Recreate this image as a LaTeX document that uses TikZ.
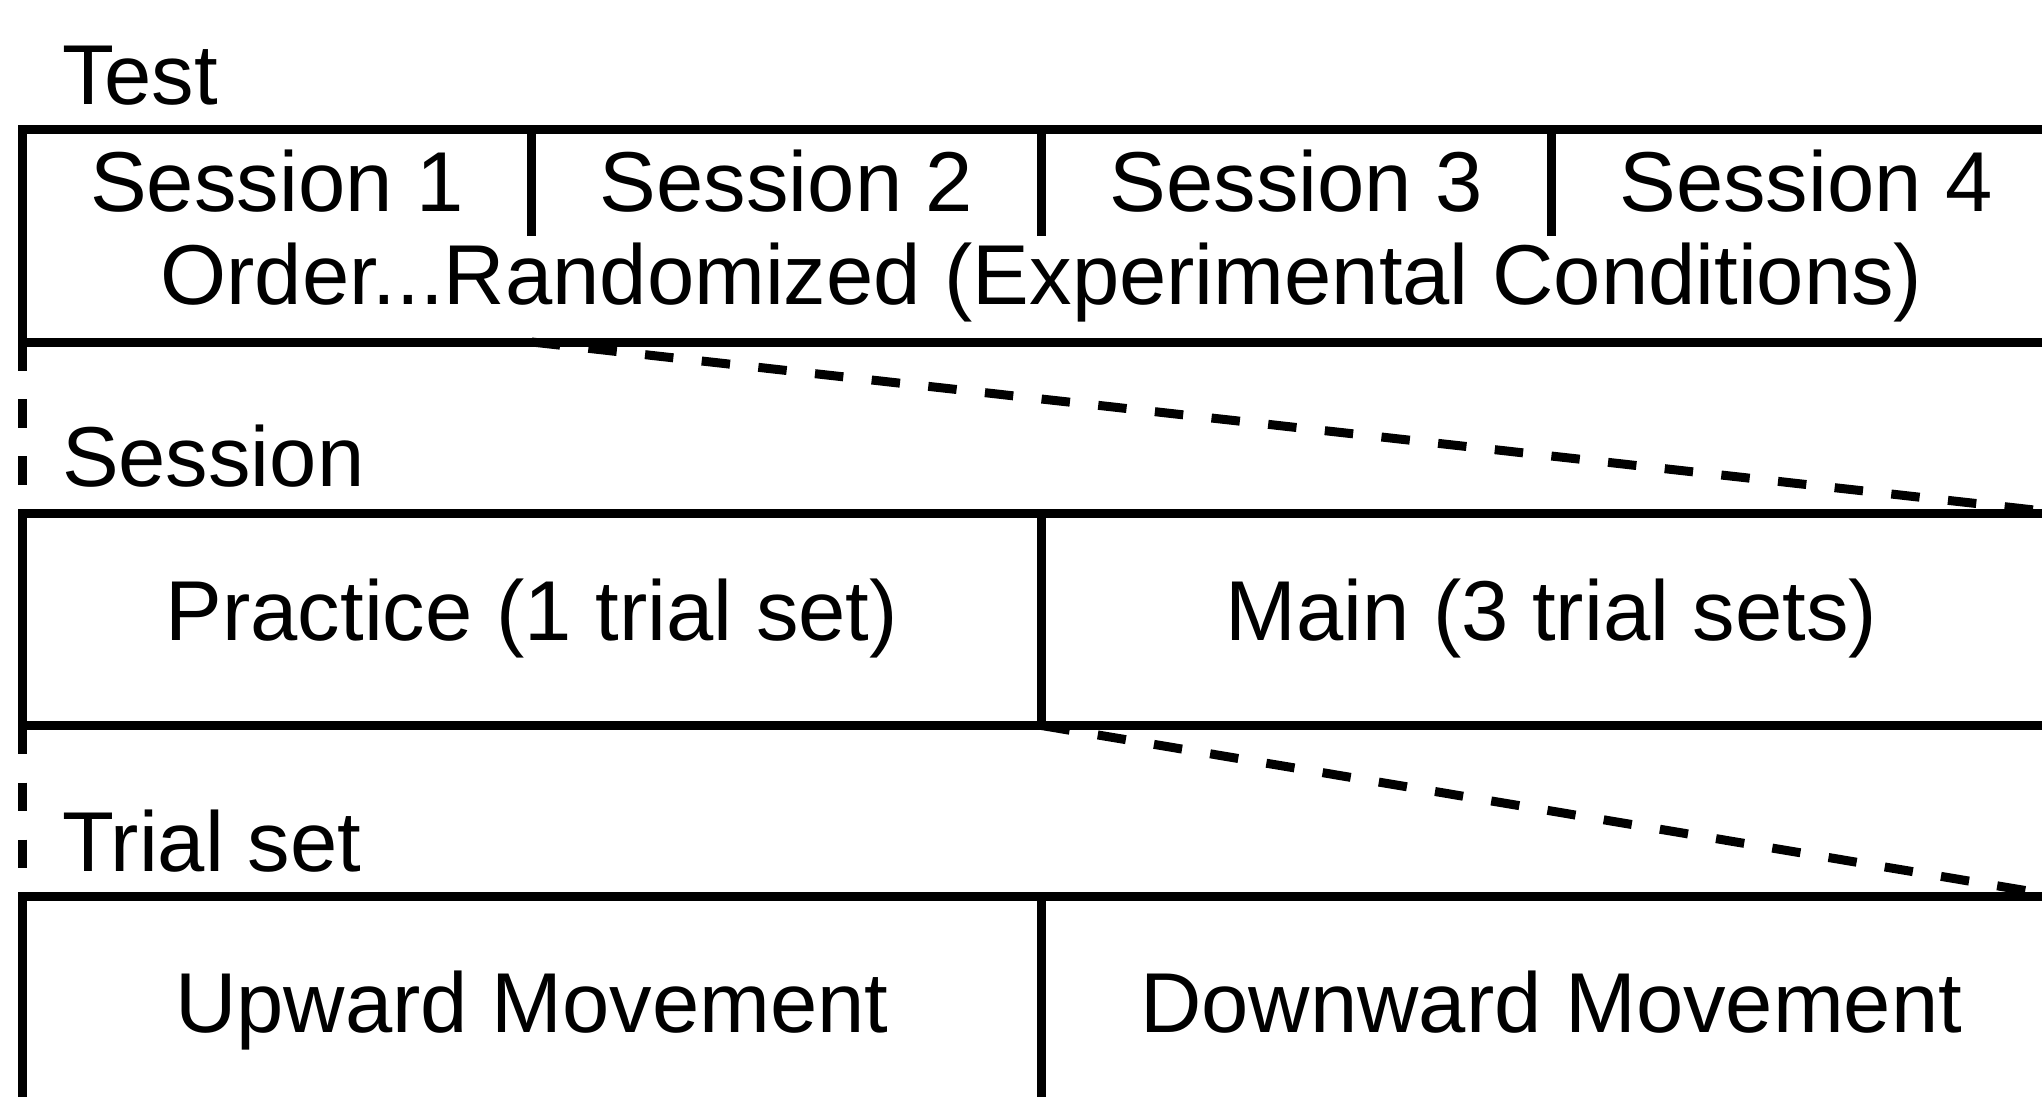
\documentclass[tikz,border=0pt]{standalone}
\usepackage{fontspec}
\setmainfont{Liberation Sans}
\usetikzlibrary{calc}
\begin{document}
\begin{tikzpicture}[x=0.5pt,y=-0.5pt,
  boxframe/.style={draw, line width=4.5pt, rectangle, inner sep=0pt, outer sep=0pt,
    anchor=north west, minimum width=1019.5pt, minimum height=106.25pt},
  divider/.style={line width=4.5pt},
  link/.style={line width=4.5pt, dash pattern=on 14.25pt off 14.25pt},
  lbl/.style={inner sep=0pt, outer sep=0pt, font=\fontsize{42.5pt}{50pt}\selectfont},
  head/.style={lbl, anchor=base west},
  cell/.style={lbl, anchor=base}]
\useasboundingbox (0,0) rectangle (2042,1097);
\clip (0,0) rectangle (2042,1097);

% boxes
\node[boxframe] (test) at (22,129.5) {};
\node[boxframe] (session) at (22,513) {};
\node[boxframe] (trial) at (22,896.5) {};

% dividers in the test box
\coordinate (t1) at ($(test.north west)!0.25!(test.north east)$);
\coordinate (t2) at ($(test.north west)!0.5!(test.north east)$);
\coordinate (t3) at ($(test.north west)!0.75!(test.north east)$);
\foreach \c in {t1,t2,t3} \draw[divider] (\c) -- ++(0,106.5);
\coordinate (tb1) at ($(test.south west)!0.25!(test.south east)$);

% dividers in session and trial boxes
\draw[divider] (session.north) -- (session.south);
\draw[divider] (trial.north) -- (trial.south);

% labels
\node[head] (testlbl) at (62,105) {Test};
\node[cell] (s1) at (276.9,212) {Session 1};
\node[cell] (s2) at (786.6,212) {Session 2};
\node[cell] (s3) at (1296.4,212) {Session 3};
\node[cell] (s4) at (1806.1,212) {Session 4};
\node[cell] (order) at (1041.5,304) {Order...Randomized (Experimental Conditions)};

\node[head] (sesslbl) at (62,486) {Session};
\node[cell] (practice) at (531.75,640) {Practice (1 trial set)};
\node[cell] (main) at (1551.25,640) {Main (3 trial sets)};

\node[head] (triallbl) at (62,871) {Trial set};
\node[cell] (up) at (531.75,1032) {Upward Movement};
\node[cell] (down) at (1551.25,1032) {Downward Movement};

% dashed connectors
\draw[link] (test.south west) -- (session.north west);
\draw[link] (session.south west) -- (trial.north west);
\draw[link] (tb1) -- (session.north east);
\draw[link] (session.south) -- (trial.north east);
\end{tikzpicture}
\end{document}
